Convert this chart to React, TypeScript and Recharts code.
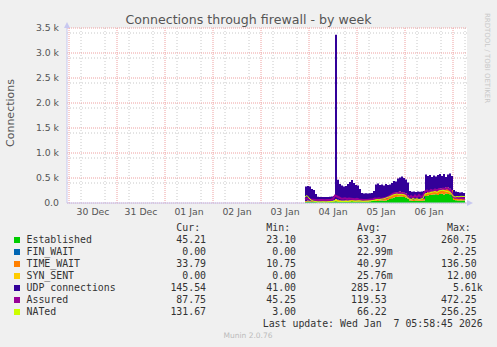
import React from 'react';
import { ComposedChart, Area, Line, XAxis, YAxis, CartesianGrid } from 'recharts';

// sample times: hours since 30 Dec 00:00
const hours = [
  118, 119, 120, 121, 122, 123, 124, 125, 126, 127,
  128, 129, 130, 131, 132, 133, 134, 135, 136, 137,
  138, 139, 140, 141, 142, 143, 144, 145, 146, 147,
  148, 149, 150, 151, 152, 153, 154, 155, 156, 157,
  158, 159, 160, 161, 162, 163, 164, 165, 166, 167,
  168, 169, 170, 171, 172, 173, 174, 175, 176, 177,
  178, 179, 180, 181, 182, 183, 184, 185, 186, 187,
  188, 189, 190, 191, 192, 193, 194, 195, 196, 197, 198,
];

const established = [
  25, 30, 28, 22, 20, 18, 15, 18, 20, 16,
  18, 20, 22, 25, 28, 35, 30, 32, 28, 30,
  35, 30, 32, 38, 35, 30, 28, 32, 30, 28,
  30, 32, 35, 38, 40, 45, 42, 48, 50, 45,
  48, 60, 80, 95, 110, 120, 125, 130, 128, 120,
  110, 90, 50, 45, 42, 48, 45, 44, 46, 50,
  140, 150, 160, 165, 170, 175, 160, 180, 185, 170,
  190, 180, 175, 160, 60, 55, 50, 52, 48, 50, 45,
];

const finWait = [
  0, 0, 0, 0, 0, 0, 0, 0, 0, 0,
  0, 0, 0, 0, 0, 2, 1, 0, 0, 0,
  0, 0, 0, 0, 0, 0, 0, 0, 0, 0,
  0, 0, 0, 0, 0, 0, 0, 0, 0, 0,
  0, 0, 0, 0, 0, 0, 0, 0, 0, 0,
  0, 0, 0, 0, 0, 0, 0, 0, 0, 0,
  0, 0, 0, 0, 0, 0, 0, 0, 0, 0,
  0, 0, 0, 0, 0, 0, 0, 0, 0, 0, 0,
];

const timeWait = [
  15, 18, 15, 12, 12, 11, 12, 14, 12, 13,
  12, 14, 15, 18, 20, 40, 35, 25, 20, 18,
  20, 22, 25, 22, 20, 18, 20, 18, 16, 15,
  14, 16, 15, 18, 20, 30, 35, 32, 30, 35,
  40, 45, 60, 70, 80, 90, 95, 100, 90, 85,
  80, 60, 35, 30, 28, 32, 30, 30, 32, 35,
  60, 70, 80, 85, 90, 95, 100, 110, 105, 115,
  120, 130, 110, 100, 50, 45, 40, 38, 35, 36, 34,
];

const synSent = [
  0, 0, 0, 0, 0, 0, 0, 0, 0, 0,
  0, 0, 0, 0, 0, 1, 0, 0, 0, 0,
  0, 0, 0, 0, 0, 0, 0, 0, 0, 0,
  0, 0, 0, 0, 0, 0, 0, 0, 0, 0,
  0, 0, 0, 0, 0, 0, 0, 0, 0, 0,
  0, 0, 0, 0, 0, 0, 0, 0, 0, 0,
  0, 0, 0, 0, 0, 0, 0, 0, 0, 0,
  0, 0, 0, 0, 0, 0, 0, 0, 0, 0, 0,
];

const udp = [
  290, 292, 287, 246, 228, 151, 98, 88, 86, 93,
  90, 84, 88, 87, 92, 3285, 400, 323, 302, 282,
  285, 328, 363, 400, 345, 312, 302, 230, 154, 147,
  151, 142, 145, 144, 180, 295, 313, 280, 290, 270,
  292, 255, 230, 235, 250, 220, 270, 280, 312, 295,
  280, 260, 155, 150, 160, 140, 155, 151, 152, 155,
  370, 320, 320, 270, 290, 260, 300, 290, 250, 295,
  210, 260, 305, 280, 150, 130, 130, 120, 132, 114, 146,
];

const assured = [
  80, 90, 85, 70, 65, 60, 55, 62, 58, 60,
  55, 62, 58, 65, 80, 150, 130, 110, 90, 85,
  95, 80, 90, 85, 80, 75, 85, 70, 65, 60,
  62, 58, 65, 70, 75, 90, 85, 95, 80, 90,
  100, 110, 130, 160, 180, 200, 190, 210, 200, 190,
  180, 150, 110, 140, 100, 150, 110, 160, 120, 140,
  230, 250, 220, 260, 240, 270, 250, 280, 260, 290,
  280, 300, 270, 250, 130, 100, 110, 95, 105, 90, 88,
];

const nated = [
  120, 150, 100, 60, 40, 30, 25, 22, 20, 25,
  22, 20, 25, 28, 30, 50, 45, 35, 30, 28,
  32, 30, 35, 40, 38, 35, 40, 45, 40, 35,
  38, 40, 42, 45, 50, 60, 70, 65, 75, 80,
  90, 110, 120, 140, 160, 170, 180, 165, 175, 170,
  160, 130, 80, 70, 90, 75, 85, 70, 80, 95,
  180, 190, 200, 210, 220, 230, 210, 240, 250, 256,
  240, 230, 220, 200, 140, 120, 130, 125, 135, 130, 132,
];

const dayTicks = [12, 36, 60, 84, 108, 132, 156, 180];
const dayLabels = ['30 Dec', '31 Dec', '01 Jan', '02 Jan', '03 Jan', '04 Jan', '05 Jan', '06 Jan'];
const yTicks = [0, 500, 1000, 1500, 2000, 2500, 3000, 3500];

const legendNames = ['Established', 'FIN_WAIT', 'TIME_WAIT', 'SYN_SENT', 'UDP connections', 'Assured', 'NATed'];
const legendColors = ['#00CC00', '#0066B3', '#FF8000', '#FFCC00', '#330099', '#990099', '#CCFF00'];
const curVals = ['45.21 ', '0.00 ', '33.79 ', '0.00 ', '145.54 ', '87.75 ', '131.67 '];
const minVals = ['23.10 ', '0.00 ', '10.75 ', '0.00 ', '41.00 ', '45.25 ', '3.00 '];
const avgVals = ['63.37 ', '22.99m', '40.97 ', '25.76m', '285.17 ', '119.53 ', '66.22 '];
const maxVals = ['260.75 ', '2.25 ', '136.50 ', '12.00 ', '5.61k', '472.25 ', '256.25 '];

const data = hours.map((h, i) => ({
  h,
  est: established[i],
  fin: finWait[i],
  tw: timeWait[i],
  syn: synSent[i],
  udp: udp[i],
  assured: assured[i],
  nated: nated[i],
}));

const minorY: number[] = [];
for (let v = 100; v < 3500; v += 100) if (v % 500 !== 0) minorY.push(v);
const majorY = yTicks;
const minorX: number[] = [];
for (let v = 6; v < 199; v += 6) if (v % 24 !== 0) minorX.push(v);
const majorX: number[] = [];
for (let v = 0; v < 199; v += 24) majorX.push(v);

const mono = '"DejaVu Sans Mono", monospace';
const sans = '"DejaVu Sans", sans-serif';

function Txt({ x, y, children, align = 'left', color = '#333', size = 9.9, font = mono }: any) {
  const style: React.CSSProperties = {
    position: 'absolute',
    top: Math.round(y - 7),
    height: 14,
    lineHeight: '14px',
    fontFamily: font,
    fontSize: size,
    color,
    whiteSpace: 'pre',
  };
  if (align === 'right') style.right = 497 - x;
  else if (align === 'center') { style.left = x - 200; style.width = 400; style.textAlign = 'center'; }
  else style.left = x;
  return <div style={style}>{children}</div>;
}

export default function App() {
  const rowY = (i: number) => 240 + i * 12;
  return (
    <div style={{ position: 'absolute', left: 0, top: 0, width: 497, height: 347, background: '#F0F0F0', overflow: 'hidden' }}>
      <div style={{ position: 'absolute', left: 67, top: 28, width: 400, height: 175, background: '#FFFFFF' }} />
      <div style={{ position: 'absolute', left: 0, top: 0 }}>
        <ComposedChart width={497} height={347} data={data} margin={{ top: 28, right: 30, bottom: 114, left: 7 }}>
          <CartesianGrid horizontalValues={minorY} verticalValues={minorX} stroke="#c8c8c8" strokeDasharray="1 2" strokeWidth={1} />
          <CartesianGrid horizontalValues={majorY} verticalValues={majorX} stroke="#eea0a0" strokeDasharray="1 1" strokeWidth={1} />
          <XAxis
            type="number"
            dataKey="h"
            domain={[-1, 199]}
            allowDataOverflow
            ticks={dayTicks}
            tickFormatter={(v: number) => dayLabels[dayTicks.indexOf(v)]}
            height={30}
            tickSize={0}
            tickMargin={5}
            tick={{ fill: '#555', fontSize: 9.3, fontFamily: sans }}
            axisLine={{ stroke: '#c8c8f0' }}
          />
          <YAxis
            type="number"
            domain={[0, 3500]}
            allowDataOverflow
            ticks={yTicks}
            tickFormatter={(v: number) => (v === 0 ? '0.0' : (v / 1000).toFixed(1) + ' k')}
            width={60}
            tickSize={0}
            tickMargin={8}
            tick={{ fill: '#555', fontSize: 9.3, fontFamily: sans }}
            axisLine={{ stroke: '#c8c8f0' }}
          />
          <Area type="stepAfter" dataKey="est" stackId="s" stroke="none" fill="#00CC00" fillOpacity={1} dot={false} activeDot={false} isAnimationActive={false} />
          <Area type="stepAfter" dataKey="fin" stackId="s" stroke="none" fill="#0066B3" fillOpacity={1} dot={false} activeDot={false} isAnimationActive={false} />
          <Area type="stepAfter" dataKey="tw" stackId="s" stroke="none" fill="#FF8000" fillOpacity={1} dot={false} activeDot={false} isAnimationActive={false} />
          <Area type="stepAfter" dataKey="syn" stackId="s" stroke="none" fill="#FFCC00" fillOpacity={1} dot={false} activeDot={false} isAnimationActive={false} />
          <Area type="stepAfter" dataKey="udp" stackId="s" stroke="none" fill="#330099" fillOpacity={1} dot={false} activeDot={false} isAnimationActive={false} />
          <Line type="linear" dataKey="assured" stroke="#990099" strokeWidth={2} dot={false} activeDot={false} isAnimationActive={false} />
          <Line type="linear" dataKey="nated" stroke="#CCFF00" strokeWidth={1} dot={false} activeDot={false} isAnimationActive={false} />
        </ComposedChart>
      </div>
      <svg width={497} height={347} style={{ position: 'absolute', left: 0, top: 0, pointerEvents: 'none' }}>
        <polygon points="64,28 70,28 67,22" fill="#c8c8f0" />
        <polygon points="467,200 467,206 473,203" fill="#c8c8f0" />
      </svg>
      <Txt x={248.5} y={19.5} align="center" size={12.6} font={sans} color="#555">Connections through firewall - by week</Txt>
      <div style={{ position: 'absolute', left: 10, top: 113, transform: 'translate(-50%, -50%) rotate(-90deg)', fontFamily: sans, fontSize: 11, color: '#555', whiteSpace: 'nowrap' }}>Connections</div>
      <div style={{ position: 'absolute', left: 487, top: 58, transform: 'translate(-50%, -50%) rotate(90deg)', fontFamily: sans, fontSize: 7, color: '#c8c8c8', whiteSpace: 'nowrap' }}>RRDTOOL / TOBI OETIKER</div>
      <Txt x={212} y={228} align="right">{'Cur:  '}</Txt>
      <Txt x={302} y={228} align="right">{'Min:  '}</Txt>
      <Txt x={392.7} y={228} align="right">{'Avg:  '}</Txt>
      <Txt x={482.7} y={228} align="right">{'Max:  '}</Txt>
      {legendNames.map((n, i) => (
        <React.Fragment key={n}>
          <div style={{ position: 'absolute', left: 14, top: rowY(i) - 3, width: 6, height: 6, background: legendColors[i] }} />
          <Txt x={26.5} y={rowY(i)}>{n}</Txt>
          <Txt x={212} y={rowY(i)} align="right">{curVals[i]}</Txt>
          <Txt x={302} y={rowY(i)} align="right">{minVals[i]}</Txt>
          <Txt x={392.7} y={rowY(i)} align="right">{avgVals[i]}</Txt>
          <Txt x={482.7} y={rowY(i)} align="right">{maxVals[i]}</Txt>
        </React.Fragment>
      ))}
      <Txt x={482.7} y={324} align="right">{'Last update: Wed Jan  7 05:58:45 2026'}</Txt>
      <Txt x={248} y={336} align="center" size={7.5} font={sans} color="#bbb">Munin 2.0.76</Txt>
    </div>
  );
}
